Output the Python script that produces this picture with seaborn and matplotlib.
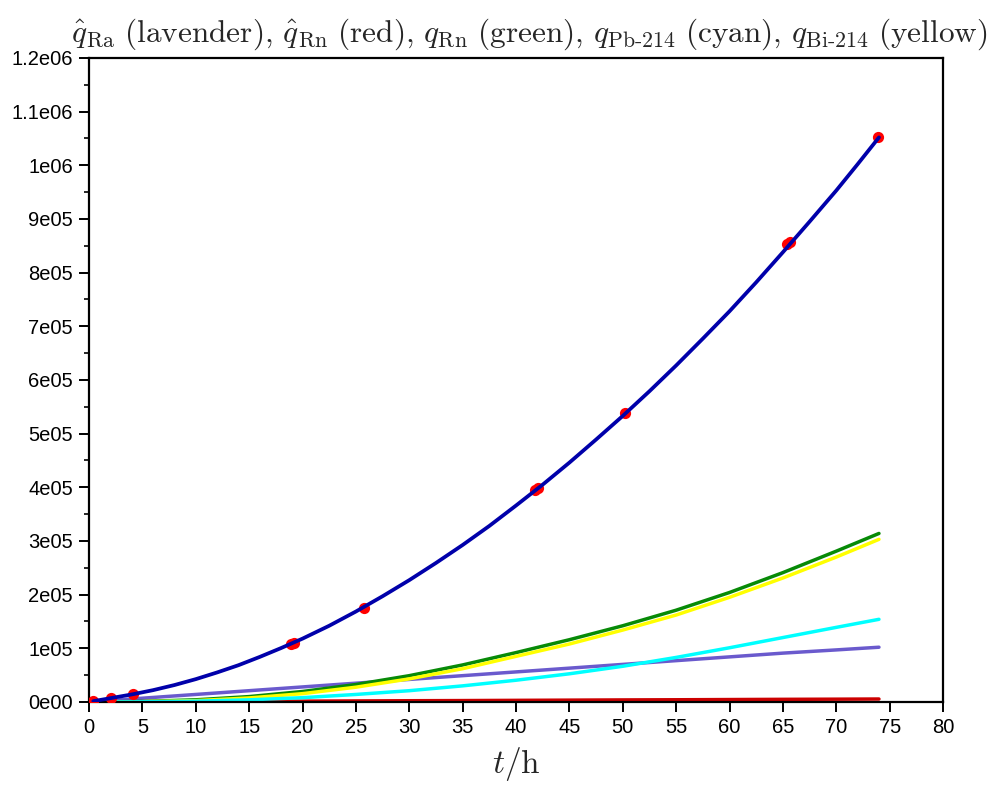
import numpy as np
import pandas as pd
import matplotlib
matplotlib.use("Agg")
import matplotlib.pyplot as plt
import seaborn as sns

# ------------------------------------------------------------
# data
# ------------------------------------------------------------
# measured points (red dots)
t_meas = [0.4, 2.1, 4.1, 18.9, 19.2, 25.8, 41.8, 42.1, 50.2, 65.4, 65.7, 73.9]
q_meas = [2000, 8000, 14500, 108000, 110000, 176000, 395000, 399000, 538000, 854000, 858000, 1052000]

# fitted total curve (blue)
t_fit = [0.4, 2, 4, 6, 8, 10, 12, 14, 16, 18, 20, 22.5, 25, 27.5, 30, 32.5, 35,
         37.5, 40, 42.5, 45, 47.5, 50, 52.5, 55, 57.5, 60, 62.5, 65, 67.5, 70, 72, 74]
q_fit = [1500, 7000, 14000, 22000, 31500, 42500, 55000, 68500, 84000, 100500,
         118000, 142000, 168500, 197000, 227000, 259000, 292500, 328000, 366000,
         405000, 446000, 489000, 533000, 579000, 627000, 677000, 728000, 782000,
         838000, 895000, 953000, 1002000, 1052000]

# component curves
t_comp = [0.4, 5, 10, 15, 20, 25, 30, 35, 40, 45, 50, 55, 60, 65, 70, 74]
q_ra_hat = [500, 7000, 14000, 21000, 28000, 35000, 42000, 49000, 56000, 63000,
            70000, 77000, 84000, 91000, 97000, 102000]
q_rn_hat = [0, 400, 800, 1100, 1500, 1900, 2300, 2600, 3000, 3400,
            3800, 4100, 4500, 4900, 5200, 5500]
q_rn = [0, 1000, 4000, 10000, 19500, 32500, 49000, 69000, 92000, 116000,
        142000, 171000, 204000, 241000, 281000, 314000]
q_bi = [0, 500, 2500, 7500, 15500, 27500, 43000, 62000, 85000, 108000,
        134000, 162000, 195000, 231000, 270000, 303000]
q_pb = [0, 300, 1500, 4000, 8000, 14000, 21000, 30000, 40500, 52500,
        66500, 83000, 101000, 120000, 139000, 154000]

x_ticks = list(range(0, 81, 5))
y_ticks = [0, 1e5, 2e5, 3e5, 4e5, 5e5, 6e5, 7e5, 8e5, 9e5, 1e6, 1.1e6, 1.2e6]
y_ticklabels = ["0e00", "1e05", "2e05", "3e05", "4e05", "5e05", "6e05",
                "7e05", "8e05", "9e05", "1e06", "1.1e06", "1.2e06"]

# ------------------------------------------------------------
# style
# ------------------------------------------------------------
sns.set_style("ticks")
plt.rcParams["font.family"] = ["Liberation Sans", "DejaVu Sans"]
plt.rcParams["mathtext.fontset"] = "cm"

fig = plt.figure(figsize=(9.89, 7.93), dpi=100)
ax = fig.add_axes([0.090, 0.1148, 0.8635, 0.8121])

lw = 2.5
curves = [
    (q_ra_hat, "#6a5acd"),
    (q_rn_hat, "#cc0000"),
    (q_rn, "#078a07"),
    (q_bi, "#ffff00"),
    (q_pb, "#00ffff"),
]
for q, col in curves:
    sns.lineplot(x=t_comp, y=q, color=col, lw=lw, ax=ax, sort=False)

sns.scatterplot(x=t_meas, y=q_meas, color="#ff0000", s=65, linewidth=0,
                ax=ax, zorder=3)
sns.lineplot(x=t_fit, y=q_fit, color="#0000aa", lw=2.7, ax=ax, sort=False,
             zorder=4)

ax.set_xlim(0, 80)
ax.set_ylim(0, 1.2e6)
ax.set_xticks(x_ticks)
ax.set_xticklabels([str(v) for v in x_ticks])
ax.set_yticks(y_ticks)
ax.set_yticklabels(y_ticklabels)
ax.set_yticks([v + 5e4 for v in y_ticks[:-1]], minor=True)

for sp in ax.spines.values():
    sp.set_linewidth(1.6)
    sp.set_color("black")
ax.tick_params(axis="both", which="major", direction="out", length=7.5, width=1.4,
               labelsize=14.5, colors="black", pad=4)
ax.tick_params(axis="y", which="minor", direction="out", length=3.5, width=1.4)
ax.tick_params(top=False, right=False)

ax.set_xlabel(r"$t/\mathrm{h}$", fontsize=24, labelpad=6)
ax.set_ylabel("")
ax.set_title(r"$\hat{q}_{\mathrm{Ra}}\ \mathrm{(lavender)},\,\hat{q}_{\mathrm{Rn}}\ \mathrm{(red)},\,"
             r"q_{\mathrm{Rn}}\ \mathrm{(green)},\,q_{\mathrm{Pb\text{-}214}}\ \mathrm{(cyan)},\,"
             r"q_{\mathrm{Bi\text{-}214}}\ \mathrm{(yellow)}$", fontsize=22.5, pad=12, x=0.515)

fig.savefig("out.png", dpi=100)
